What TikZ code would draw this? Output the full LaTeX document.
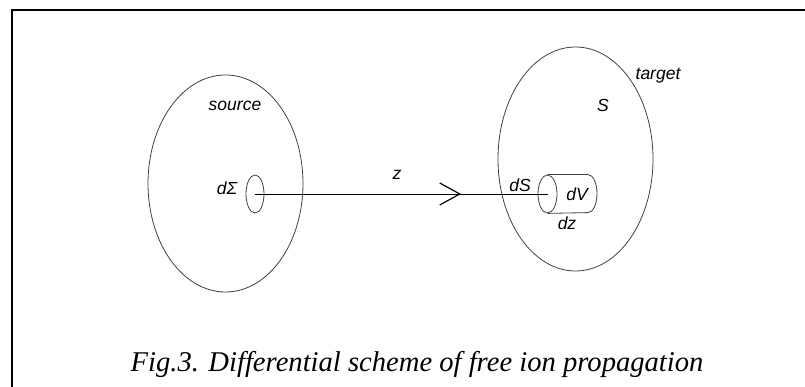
\documentclass[tikz,border=0pt]{standalone}
\usepackage{fontspec}
\setmainfont{Liberation Serif}
\newfontfamily\labelfont{Liberation Sans}
\usetikzlibrary{shapes.geometric}

\tikzset{
  every label/.style={font=\labelfont\itshape\fontsize{17.5}{17.5}\selectfont, inner sep=0pt},
  body/.style={draw=black!75, ellipse, line width=0.8pt, inner sep=0pt},
}

\begin{document}
\begin{tikzpicture}[x=1pt, y=1pt, >=stealth]
        \useasboundingbox (0,0) rectangle (805,387);
        \draw[line width=2pt] (805,377) -- (12,377) -- (12,0);   %frame
        \node [body, minimum width=155, minimum height=217] (source) at (225.5,203.5) {};
        \node [body, minimum width=155, minimum height=224] (target) at (575.5,228) {};
        \node [body, minimum width=18, minimum height=38] (dsigma) at (255,193) {};
        \node [body, minimum width=19, minimum height=38] (dsface) at (547.5,193) {};
        % cylinder body
        \draw [black!75, line width=0.8pt] (dsface.north) -- ++(40.5,0)
          arc [start angle=90, end angle=-90, x radius=9, y radius=19] -- (dsface.south);
        \draw [line width=0.8pt] (dsigma.center) -- node [pos=0.7, coordinate] (tip) {} (dsface.center);
        \draw [line width=1.2pt] (tip) ++(-20,11) -- (tip) -- ++(-20,-11);
        \foreach \t/\x/\y in {source/235/281, target/658/311, S/603/282, dΣ/227/199,
                              z/397/212, dS/520/202, dV/577/193, dz/567/164}
          \node [every label] at (\x,\y) {\t};
        \node [anchor=base, font=\itshape\fontsize{28.6}{28.6}\selectfont] (caption) at (417,15)
          {Fig.3. Differential scheme of free ion propagation};
    \end{tikzpicture}
\end{document}
